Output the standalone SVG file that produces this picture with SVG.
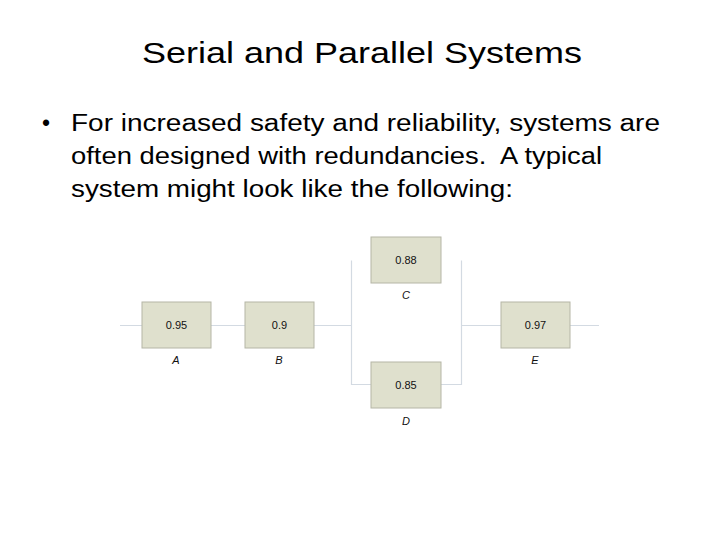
<svg xmlns="http://www.w3.org/2000/svg" width="720" height="540" viewBox="0 0 720 540">
<style>
.t{font-family:"Liberation Sans",Arial,sans-serif;fill:#000}
.box{fill:#dfe0cd;stroke:#b5b6a6;stroke-width:1}
.val{font-family:"Liberation Sans",Arial,sans-serif;font-size:11px;fill:#111;text-anchor:middle}
.lbl{font-family:"Liberation Sans",Arial,sans-serif;font-size:11px;font-style:italic;fill:#111;text-anchor:middle}
.ln{stroke:#d3dae2;stroke-width:1.2;fill:none}
</style>
<rect width="720" height="540" fill="#fff"/>
<text class="t" x="142" y="63" font-size="30" textLength="440" lengthAdjust="spacingAndGlyphs">Serial and Parallel Systems</text>
<text class="t" x="42" y="131" font-size="23">•</text>
<text class="t" x="71" y="131" font-size="23.5" textLength="589" lengthAdjust="spacingAndGlyphs">For increased safety and reliability, systems are</text>
<text class="t" x="71" y="164" font-size="23.5" textLength="531" lengthAdjust="spacingAndGlyphs" xml:space="preserve">often designed with redundancies.  A typical</text>
<text class="t" x="71" y="197" font-size="23.5" textLength="442" lengthAdjust="spacingAndGlyphs">system might look like the following:</text>
<g id="connectors">
<path class="ln" d="M120 325.5H142M211 325.5H245M314 325.5H351.5M461.5 325.5H501M570 325.5H599"/>
<path class="ln" d="M351.5 260.5V384.5H371M441 384.5H461.5V260.5"/>
</g>
<g id="A"><rect class="box" x="142" y="302" width="69" height="46"/><text class="val" x="176.5" y="329">0.95</text><text class="lbl" x="176" y="364">A</text></g>
<g id="B"><rect class="box" x="245" y="302" width="69" height="46"/><text class="val" x="279.5" y="329">0.9</text><text class="lbl" x="279" y="364">B</text></g>
<g id="C"><rect class="box" x="371" y="237" width="70" height="46"/><text class="val" x="406" y="264">0.88</text><text class="lbl" x="406" y="299">C</text></g>
<g id="D"><rect class="box" x="371" y="362" width="70" height="46"/><text class="val" x="406" y="389">0.85</text><text class="lbl" x="406" y="425">D</text></g>
<g id="E"><rect class="box" x="501" y="302" width="69" height="46"/><text class="val" x="535.5" y="329">0.97</text><text class="lbl" x="535" y="364">E</text></g>
</svg>
